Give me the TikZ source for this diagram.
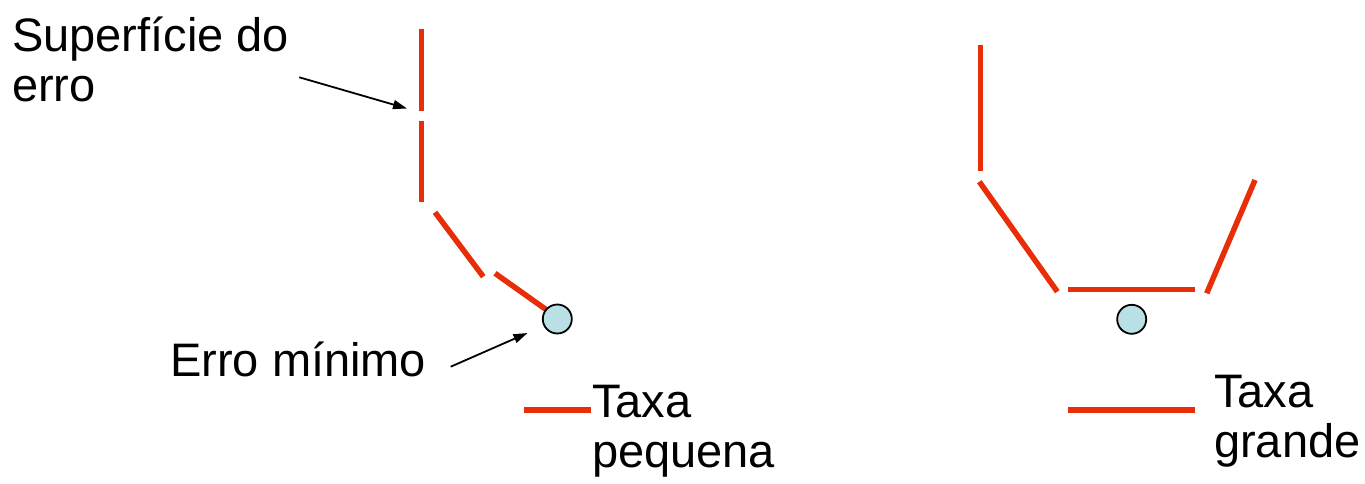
\documentclass[tikz,border=0pt]{standalone}
\usepackage{fontspec}
\setmainfont{Liberation Sans}
\usetikzlibrary{arrows.meta}
\definecolor{curvered}{RGB}{232,46,8}
\definecolor{ballfill}{RGB}{185,224,228}
\tikzset{
  seg/.style={draw=curvered, line width=5.5pt},
  ball/.style={circle, draw=black, line width=1.8pt, fill=ballfill, minimum size=29pt, inner sep=0pt},
  lbl/.style={anchor=base west, inner sep=0pt, align=left, font=\fontsize{47}{50}\selectfont},
  pointer/.style={draw=black, line width=1.8pt, -{Triangle[length=14pt,width=9pt]}}
}
\begin{document}
\begin{tikzpicture}[x=1pt,y=-1pt]
\useasboundingbox (0,0) rectangle (1365,483);
% left figure
\coordinate (l1a) at (421.7,29.3);  \coordinate (l1b) at (421.7,110.7);
\coordinate (l2a) at (421.7,120.7); \coordinate (l2b) at (421.7,201.7);
\coordinate (l3a) at (435,212.3);   \coordinate (l3b) at (483.3,276.7);
\coordinate (l4a) at (495,273.3);   \coordinate (l4b) at (546.7,310);
\draw[seg] (l1a) -- (l1b);
\draw[seg] (l2a) -- (l2b);
\draw[seg] (l3a) -- (l3b);
\draw[seg] (l4a) -- (l4b);
\node[ball] (minL) at (557.3,319) {};
\coordinate (lega) at (524,410); \coordinate (legb) at (590.7,410);
\draw[seg] (lega) -- (legb);
% right figure
\coordinate (r1a) at (980.7,44.7);   \coordinate (r1b) at (980.7,171.3);
\coordinate (r2a) at (979.3,181.7);  \coordinate (r2b) at (1057.3,291.7);
\coordinate (r3a) at (1068.3,289.3); \coordinate (r3b) at (1195,289.3);
\coordinate (r4a) at (1206.7,293.3); \coordinate (r4b) at (1255,180);
\draw[seg] (r1a) -- (r1b);
\draw[seg] (r2a) -- (r2b);
\draw[seg] (r3a) -- (r3b);
\draw[seg] (r4a) -- (r4b);
\node[ball] (minR) at (1131.7,319.3) {};
\coordinate (rega) at (1068.3,410); \coordinate (regb) at (1195,410);
\draw[seg] (rega) -- (regb);
% labels (anchored at the baseline of their last line)
\node[lbl] (surf) at (12,101) {Superfície do\\erro};
\node[lbl] (emin) at (170,376.5) {Erro mínimo};
\node[lbl] (tpeq) at (592,467) {Taxa\\pequena};
\node[lbl] (tgr) at (1214,457) {Taxa\\grande};
% pointers
\coordinate (p1s) at (299.3,77.3); \coordinate (p1e) at (407,108.5);
\coordinate (p2s) at (450.7,366.7); \coordinate (p2e) at (527.5,333);
\draw[pointer] (p1s) -- (p1e);
\draw[pointer] (p2s) -- (p2e);
\end{tikzpicture}
\end{document}
